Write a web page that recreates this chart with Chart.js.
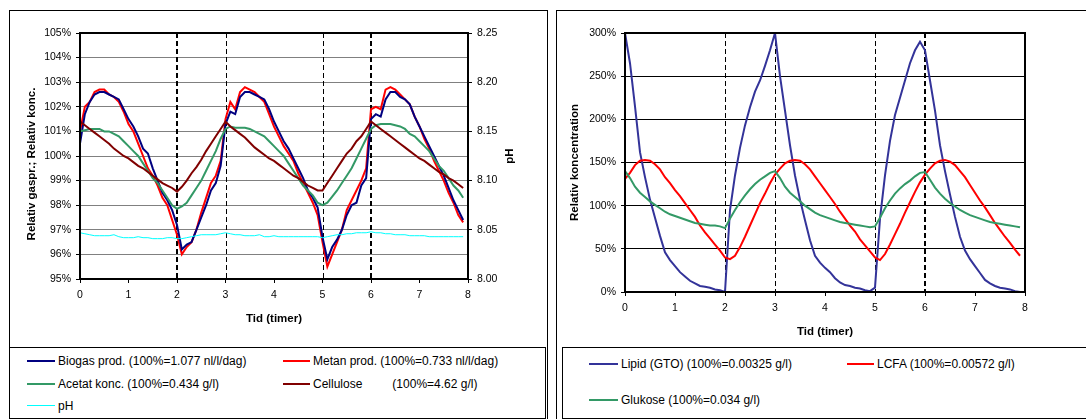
<!DOCTYPE html>
<html>
<head>
<meta charset="utf-8">
<script src="https://cdn.jsdelivr.net/npm/chart.js@4.4.1/dist/chart.umd.min.js"></script>
<style>
body { margin: 0; background: #fff; width: 1086px; height: 419px; overflow: hidden; position: relative; font-family: 'Liberation Sans', Arial, sans-serif; }
.panel { position: absolute; border: 1px solid #000; box-sizing: border-box; }
.legende { position: absolute; border: 1px solid #000; box-sizing: border-box; background: #fff; }
.punkt { position: absolute; font-size: 12px; white-space: pre; color: #000; line-height: 14px; }
.punkt span { position: absolute; left: 0; }
canvas { position: absolute; }
</style>
</head>
<body>
<div class="panel" style="left:9px;top:10px;width:539px;height:420px"></div>
<div class="panel" style="left:556px;top:10px;width:600px;height:420px"></div>
<canvas id="venstre" width="538" height="337" style="left:9px;top:10px"></canvas>
<canvas id="hoejre" width="530" height="337" style="left:556px;top:10px"></canvas>
<div class="legende" id="legV" style="left:9px;top:347px;width:537px;height:72px"></div>
<div class="legende" id="legH" style="left:562px;top:347px;width:600px;height:72px"></div>

<script>
// tid i timer
const tid = [
  0.0, 0.1, 0.2, 0.3, 0.4, 0.5, 0.6, 0.7, 0.8, 0.9,
  1.0, 1.1, 1.2, 1.3, 1.4, 1.5, 1.6, 1.7, 1.8, 1.9,
  2.0, 2.1, 2.2, 2.3, 2.4, 2.5, 2.6, 2.7, 2.8, 2.9,
  3.0, 3.1, 3.2, 3.3, 3.4, 3.5, 3.6, 3.7, 3.8, 3.9,
  4.0, 4.1, 4.2, 4.3, 4.4, 4.5, 4.6, 4.7, 4.8, 4.9,
  5.0, 5.1, 5.2, 5.3, 5.4, 5.5, 5.6, 5.7, 5.8, 5.9,
  6.0, 6.1, 6.2, 6.3, 6.4, 6.5, 6.6, 6.7, 6.8, 6.9,
  7.0, 7.1, 7.2, 7.3, 7.4, 7.5, 7.6, 7.7, 7.8, 7.9
];

// venstre figur (%)
const biogas = [
  100.5, 101.7, 102.2, 102.5, 102.6, 102.6, 102.5, 102.4, 102.3, 101.9,
  101.5, 101.2, 100.8, 100.3, 100.1, 99.5, 99.0, 98.5, 98.2, 97.8,
  97.2, 96.2, 96.4, 96.5, 97.0, 97.5, 98.0, 98.6, 98.9, 99.6,
  101.3, 101.8, 101.7, 102.4, 102.6, 102.6, 102.5, 102.4, 102.3, 101.9,
  101.4, 101.0, 100.6, 100.3, 99.9, 99.5, 99.1, 98.6, 98.3, 97.9,
  96.7, 95.8, 96.3, 96.6, 97.0, 97.6, 98.0, 98.1, 98.8, 99.1,
  101.5, 101.7, 101.6, 102.3, 102.6, 102.6, 102.4, 102.3, 102.1, 101.6,
  101.2, 100.8, 100.4, 100.0, 99.6, 99.2, 98.7, 98.2, 97.8, 97.4
];
const metan = [
  101.0, 102.0, 102.2, 102.6, 102.7, 102.7, 102.5, 102.4, 102.2, 101.8,
  101.3, 101.0, 100.5, 100.0, 99.5, 99.2, 98.8, 98.3, 98.0, 97.4,
  96.8, 96.0, 96.3, 96.5, 97.0, 97.7, 98.3, 98.9, 99.2, 99.8,
  101.5, 102.2, 101.9, 102.6, 102.8, 102.7, 102.6, 102.4, 102.2, 101.7,
  101.2, 100.8, 100.4, 100.1, 99.8, 99.3, 98.9, 98.5, 98.1, 97.6,
  96.5, 95.5, 96.0, 96.5, 97.0, 97.8, 98.2, 98.6, 99.0, 99.5,
  101.9, 102.0, 101.9, 102.7, 102.8, 102.7, 102.5, 102.3, 102.1, 101.6,
  101.2, 100.7, 100.3, 99.8, 99.4, 99.0, 98.5, 98.1, 97.6, 97.3
];
const acetat = [
  101.0, 101.05, 101.1, 101.1, 101.1, 101.0, 101.0, 100.9, 100.8, 100.6,
  100.4, 100.2, 100.0, 99.7, 99.4, 99.1, 98.9, 98.6, 98.3, 98.0,
  97.85, 97.95, 98.1, 98.4, 98.7, 99.0, 99.4, 99.8, 100.2, 100.7,
  101.1, 101.2, 101.15, 101.15, 101.15, 101.1, 101.0, 100.9, 100.8, 100.6,
  100.4, 100.2, 100.0, 99.7, 99.4, 99.1, 98.8, 98.6, 98.4, 98.1,
  98.0, 98.1, 98.35, 98.6, 98.9, 99.2, 99.5, 99.9, 100.3, 100.7,
  101.1, 101.25, 101.3, 101.3, 101.3, 101.25, 101.2, 101.1, 100.9, 100.8,
  100.6, 100.4, 100.2, 99.9, 99.6, 99.4, 99.1, 98.8, 98.6, 98.3
];
const cellulose = [
  101.4, 101.25, 101.1, 100.95, 100.8, 100.65, 100.5, 100.3, 100.15, 100.0,
  99.9, 99.75, 99.6, 99.5, 99.35, 99.2, 99.05, 98.9, 98.8, 98.7,
  98.55, 98.75, 99.0, 99.3, 99.55, 99.85, 100.2, 100.5, 100.8, 101.1,
  101.4, 101.2, 101.05, 100.9, 100.75, 100.55, 100.35, 100.2, 100.05, 99.9,
  99.8, 99.65, 99.5, 99.35, 99.2, 99.1, 98.95, 98.8, 98.7, 98.6,
  98.6, 98.9, 99.2, 99.5, 99.8, 100.1, 100.3, 100.6, 100.8, 101.1,
  101.4, 101.25, 101.1, 100.95, 100.8, 100.65, 100.5, 100.35, 100.2, 100.05,
  99.9, 99.8, 99.65, 99.5, 99.35, 99.25, 99.1, 99.0, 98.85, 98.7
];
const ph = [
  8.047, 8.046, 8.045, 8.044, 8.044, 8.044, 8.044, 8.045, 8.043, 8.042,
  8.042, 8.042, 8.043, 8.042, 8.042, 8.041, 8.041, 8.041, 8.042, 8.042,
  8.041, 8.041, 8.042, 8.043, 8.044, 8.045, 8.045, 8.045, 8.045, 8.046,
  8.047, 8.046, 8.045, 8.045, 8.044, 8.044, 8.044, 8.045, 8.043, 8.043,
  8.044, 8.043, 8.043, 8.043, 8.043, 8.043, 8.043, 8.043, 8.043, 8.043,
  8.042, 8.043, 8.044, 8.045, 8.045, 8.046, 8.046, 8.047, 8.047, 8.047,
  8.048, 8.047, 8.047, 8.046, 8.046, 8.045, 8.045, 8.045, 8.044, 8.044,
  8.044, 8.044, 8.043, 8.043, 8.043, 8.043, 8.043, 8.043, 8.043, 8.043
];

// hoejre figur (%)
const lipid = [
  300, 265, 215, 162, 133, 107, 86, 65, 46, 37,
  30, 23, 18, 13, 10, 7, 6, 5, 3, 2,
  0, 95, 135, 167, 193, 214, 232, 245, 262, 280,
  300, 250, 210, 170, 135, 107, 83, 60, 42, 34,
  28, 23, 16, 11, 8, 7, 5, 4, 2, 1,
  5, 85, 135, 175, 205, 225, 245, 265, 280, 290,
  280, 245, 210, 170, 140, 113, 87, 64, 48, 38,
  30, 22, 14, 10, 7, 5, 4, 3, 1, 0
];
const lcfa = [
  131, 138, 147, 152, 153, 152, 148, 142, 133, 126,
  118, 111, 103, 95, 87, 77, 69, 62, 55, 48,
  40, 38, 42, 52, 64, 77, 90, 103, 114, 126,
  136, 143, 149, 152, 153, 152, 148, 142, 134, 126,
  118, 110, 102, 93, 85, 77, 70, 61, 54, 47,
  40, 37, 44, 55, 67, 79, 92, 104, 116, 127,
  136, 143, 149, 152, 153, 151, 147, 140, 133, 124,
  115, 106, 98, 89, 80, 72, 64, 57, 49, 42
];
const glukose = [
  140, 132, 122, 115, 110, 105, 101, 97, 93, 90,
  88, 86, 84, 82, 80, 79, 78, 77, 77, 76,
  74, 85, 95, 104, 112, 119, 125, 130, 134, 138,
  140, 132, 122, 115, 110, 105, 100, 96, 92, 89,
  87, 85, 83, 81, 80, 79, 78, 77, 76, 75,
  76, 86, 97, 106, 114, 120, 125, 129, 134, 138,
  139, 130, 121, 114, 108, 103, 99, 95, 92, 89,
  87, 85, 83, 81, 80, 79, 78, 77, 76, 75
];

const navneV = [
  'Biogas prod. (100%=1.077 nl/l/dag)',
  'Metan prod. (100%=0.733 nl/l/dag)',
  'Acetat konc. (100%=0.434 g/l)',
  'Cellulose         (100%=4.62 g/l)',
  'pH'
];
const navneH = [
  'Lipid (GTO) (100%=0.00325 g/l)',
  'LCFA (100%=0.00572 g/l)',
  'Glukose (100%=0.034 g/l)'
];

Chart.defaults.font.family = "'Liberation Sans', Arial, sans-serif";
Chart.defaults.color = '#000';

function punkter(vaerdier) {
  return tid.map((t, i) => ({ x: t, y: vaerdier[i] }));
}

// stiplede linjer, ramme om plotomraadet og akse-titler der skal rotere mod uret
const rammePlugin = {
  id: 'ramme',
  beforeDatasetsDraw(chart, args, opts) {
    const { ctx, chartArea: a, scales } = chart;
    (opts.linjer || []).forEach(l => {
      const px = Math.round(scales.x.getPixelForValue(l.x)) + (l.w === 1 ? 0.5 : 0);
      ctx.save();
      ctx.strokeStyle = '#000';
      ctx.lineWidth = l.w;
      ctx.setLineDash([5, 3]);
      ctx.beginPath();
      ctx.moveTo(px, a.top);
      ctx.lineTo(px, a.bottom);
      ctx.stroke();
      ctx.restore();
    });
  },
  afterDatasetsDraw(chart, args, opts) {
    const { ctx, chartArea: a } = chart;
    ctx.save();
    ctx.strokeStyle = '#000';
    ctx.lineWidth = 2;
    ctx.strokeRect(a.left, a.top, a.right - a.left, a.bottom - a.top);
    ctx.font = "bold 11.5px 'Liberation Sans', Arial, sans-serif";
    ctx.fillStyle = '#000';
    ctx.textAlign = 'center';
    ctx.textBaseline = 'middle';
    (opts.titler || []).forEach(t => {
      ctx.save();
      ctx.translate(t.x, (a.top + a.bottom) / 2 + t.dy);
      ctx.rotate(-Math.PI / 2);
      ctx.fillText(t.tekst, 0, 0);
      ctx.restore();
    });
    ctx.restore();
  }
};

const tickFont = { size: 10.5 };
const titelFont = { size: 11.5, weight: 'bold' };

const venstre = new Chart(document.getElementById('venstre'), {
  type: 'line',
  data: {
    datasets: [
      { label: navneV[4], data: punkter(ph), borderColor: '#00ffff', borderWidth: 1, yAxisID: 'y2' },
      { label: navneV[3], data: punkter(cellulose), borderColor: '#800000', borderWidth: 2 },
      { label: navneV[2], data: punkter(acetat), borderColor: '#339966', borderWidth: 2 },
      { label: navneV[0], data: punkter(biogas), borderColor: '#000080', borderWidth: 2 },
      { label: navneV[1], data: punkter(metan), borderColor: '#ff0000', borderWidth: 2 }
    ]
  },
  options: {
    responsive: false,
    animation: false,
    layout: { padding: { top: 23, left: 0, right: 0, bottom: 0 } },
    elements: { point: { radius: 0 }, line: { tension: 0 } },
    plugins: {
      legend: { display: false },
      tooltip: { enabled: false },
      ramme: {
        linjer: [{ x: 2, w: 2 }, { x: 3, w: 1 }, { x: 5, w: 1 }, { x: 6, w: 2 }],
        titler: [
          { tekst: 'Relativ gaspr.; Relativ konc.', x: 23, dy: 8 },
          { tekst: 'pH', x: 501, dy: 0 }
        ]
      }
    },
    scales: {
      x: {
        type: 'linear', min: 0, max: 8,
        ticks: { stepSize: 1, font: tickFont, padding: 6, maxRotation: 0 },
        grid: { drawOnChartArea: false, tickLength: 4, tickColor: '#000' },
        border: { display: false },
        title: { display: true, text: 'Tid (timer)', font: titelFont, padding: { top: 0, bottom: 21 } },
        afterFit: s => { s.height = 68; }
      },
      y: {
        min: 95, max: 105,
        ticks: { stepSize: 1, font: tickFont, padding: 5, callback: v => v + '%' },
        grid: { color: '#808080', tickLength: 4, tickColor: '#000' },
        border: { display: false },
        afterFit: s => { s.width = 71; }
      },
      y2: {
        position: 'right', min: 8.0, max: 8.25,
        ticks: { stepSize: 0.05, font: tickFont, padding: 5, callback: v => v.toFixed(2) },
        grid: { drawOnChartArea: false, tickLength: 4, tickColor: '#000' },
        border: { display: false },
        afterFit: s => { s.width = 79; }
      }
    }
  },
  plugins: [rammePlugin]
});

const hoejre = new Chart(document.getElementById('hoejre'), {
  type: 'line',
  data: {
    datasets: [
      { label: navneH[2], data: punkter(glukose), borderColor: '#339966', borderWidth: 2 },
      { label: navneH[1], data: punkter(lcfa), borderColor: '#ff0000', borderWidth: 2 },
      { label: navneH[0], data: punkter(lipid), borderColor: '#333399', borderWidth: 2 }
    ]
  },
  options: {
    responsive: false,
    animation: false,
    layout: { padding: { top: 23, left: 0, right: 61, bottom: 0 } },
    elements: { point: { radius: 0 }, line: { tension: 0 } },
    plugins: {
      legend: { display: false },
      tooltip: { enabled: false },
      ramme: { linjer: [{ x: 2, w: 1 }, { x: 3, w: 1 }, { x: 5, w: 1 }, { x: 6, w: 2 }] }
    },
    scales: {
      x: {
        type: 'linear', min: 0, max: 8,
        ticks: { stepSize: 1, font: tickFont, padding: 6, maxRotation: 0 },
        grid: { drawOnChartArea: false, tickLength: 4, tickColor: '#000' },
        border: { display: false },
        title: { display: true, text: 'Tid (timer)', font: titelFont, padding: { top: 0, bottom: 8 } },
        afterFit: s => { s.height = 55; }
      },
      y: {
        min: 0, max: 300,
        ticks: { stepSize: 50, font: tickFont, padding: 5, callback: v => v + '%' },
        grid: { color: '#000', tickLength: 4, tickColor: '#000' },
        border: { display: false },
        title: { display: true, text: 'Relativ koncentration', font: titelFont, padding: { top: 12, bottom: 0 } },
        afterFit: s => { s.width = 69; }
      }
    }
  },
  plugins: [rammePlugin]
});

// legender som html, bygget af datasaettene
function lavLegende(boksId, chart, placering) {
  const boks = document.getElementById(boksId);
  const boksRect = boks.getBoundingClientRect();
  chart.data.datasets.forEach(ds => {
    const p = placering[ds.label];
    const el = document.createElement('div');
    el.className = 'punkt';
    el.style.left = (p.x - boksRect.left) + 'px';
    el.style.top = (p.y - boksRect.top - 7) + 'px';
    const streg = document.createElement('span');
    streg.style.top = (7 - Math.ceil(ds.borderWidth / 2)) + 'px';
    streg.style.width = p.len + 'px';
    streg.style.height = ds.borderWidth + 'px';
    streg.style.background = ds.borderColor;
    el.appendChild(streg);
    const txt = document.createElement('span');
    txt.style.left = (p.len + 3) + 'px';
    txt.style.top = '0px';
    txt.textContent = ds.label;
    el.appendChild(txt);
    boks.appendChild(el);
  });
}

lavLegende('legV', venstre, {
  [navneV[0]]: { x: 26, y: 360, len: 28 },
  [navneV[1]]: { x: 282, y: 360, len: 27 },
  [navneV[2]]: { x: 26, y: 383, len: 28 },
  [navneV[3]]: { x: 282, y: 383, len: 27 },
  [navneV[4]]: { x: 26, y: 405, len: 28 }
});
lavLegende('legH', hoejre, {
  [navneH[0]]: { x: 588, y: 363, len: 29 },
  [navneH[1]]: { x: 846, y: 363, len: 27 },
  [navneH[2]]: { x: 588, y: 399, len: 29 }
});
</script>
</body>
</html>
